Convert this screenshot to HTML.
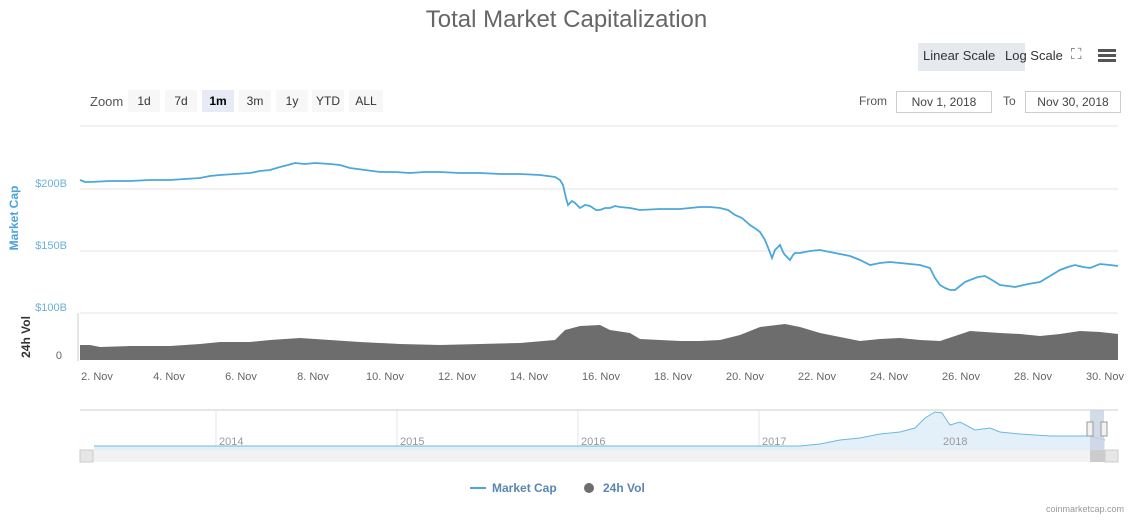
<!DOCTYPE html>
<html><head><meta charset="utf-8"><style>
body{margin:0;width:1133px;height:522px;background:#fff;font-family:"Liberation Sans",sans-serif;overflow:hidden;position:relative}
.t{position:absolute;white-space:nowrap}
.btn{position:absolute;top:90px;height:22px;line-height:22px;font-size:12px;color:#333;background:#f7f7f7;text-align:center}
.box{position:absolute;top:91px;height:20px;line-height:20px;border:1px solid #ccc;font-size:12px;color:#444;text-align:center}
</style></head><body>
<div class="t" style="left:0;width:1133px;text-align:center;top:6px;font-size:24px;color:#666">Total Market Capitalization</div>
<div class="t" style="left:918px;top:43px;width:107px;height:28px;background:#e6e9ee;"></div>
<div class="t" style="left:923px;top:48px;font-size:13px;color:#333">Linear Scale</div>
<div class="t" style="left:1005px;top:48px;font-size:13px;color:#333">Log Scale</div>
<div class="t" style="left:1071px;top:46px;font-size:15px;color:#666">⛶</div>
<div class="t" style="left:1098px;top:49px;width:18px;height:3px;background:#555;box-shadow:0 5px 0 #555,0 10px 0 #555"></div>
<div class="t" style="left:90px;top:94px;font-size:13px;color:#555">Zoom</div>
<div class="btn" style="left:128px;width:32px">1d</div>
<div class="btn" style="left:165px;width:32px">7d</div>
<div class="btn" style="left:202px;width:32px;background:#e6ebf5;font-weight:bold;color:#000">1m</div>
<div class="btn" style="left:239px;width:32px">3m</div>
<div class="btn" style="left:276px;width:32px">1y</div>
<div class="btn" style="left:312px;width:32px">YTD</div>
<div class="btn" style="left:349px;width:34px">ALL</div>
<div class="t" style="left:859px;top:94px;font-size:12px;color:#555">From</div>
<div class="box" style="left:896px;width:94px">Nov 1, 2018</div>
<div class="t" style="left:1003px;top:94px;font-size:12px;color:#555">To</div>
<div class="box" style="left:1025px;width:94px">Nov 30, 2018</div>
<svg width="1133" height="522" style="position:absolute;left:0;top:0">
<g stroke="#e6e6e6" stroke-width="1">
<line x1="80" y1="126" x2="1118" y2="126"/><line x1="80" y1="189" x2="1118" y2="189"/><line x1="80" y1="251" x2="1118" y2="251"/><line x1="80" y1="313" x2="1118" y2="313"/>
</g>
<g font-size="11" fill="#6cb1dc" text-anchor="end"><text x="67" y="187">$200B</text><text x="67" y="249">$150B</text><text x="67" y="311">$100B</text></g>
<text transform="translate(18,218) rotate(-90)" font-size="12" fill="#4aa3dc" text-anchor="middle" font-weight="bold">Market Cap</text>
<text transform="translate(30,337) rotate(-90)" font-size="12" fill="#333" text-anchor="middle" font-weight="bold">24h Vol</text>
<text x="62" y="359" font-size="11" fill="#666" text-anchor="end">0</text>
<line x1="78" y1="313" x2="78" y2="361" stroke="#ccc"/>
<polygon fill="#6d6d6d" points="80,360 80,345 90,345 100,347 130,346 170,346 200,344 220,342 250,342 270,340 300,338 330,340 360,342 400,344 440,345 480,344 520,343 555,340 565,330 580,326 600,325 610,330 630,333 640,339 680,341 700,341 720,340 740,335 760,327 785,324 800,327 820,333 840,337 860,341 880,339 900,338 920,340 940,341 955,336 970,331 1000,333 1020,334 1040,336 1060,334 1080,331 1100,332 1118,334 1118,360"/>
<polyline fill="none" stroke="#4aa8dc" stroke-width="1.8" points="80,180 85,182 90,182 110,181 130,181 150,180 170,180 185,179 200,178 210,176 220,175 235,174 250,173 260,171 270,170 280,167 288,165 295,163 305,164 315,163 330,164 340,165 350,168 365,170 380,172 395,172 410,173 425,172 440,172 460,173 480,173 500,174 520,174 540,175 555,177 560,180 563,185 566,198 568,205 572,201 575,203 580,208 585,205 590,206 596,210 600,210 605,208 610,208 615,206 620,207 630,208 640,210 660,209 680,209 690,208 700,207 710,207 720,208 728,210 735,215 742,218 750,225 756,229 760,232 765,240 769,250 772,258 775,250 777,248 780,245 783,252 785,255 790,260 793,255 795,253 800,253 810,251 820,250 835,253 850,256 860,260 870,265 880,263 890,262 900,263 910,264 920,265 930,268 935,278 940,285 945,288 950,290 955,290 960,286 965,282 970,280 978,277 985,276 992,280 1000,285 1008,286 1015,287 1028,284 1040,282 1050,276 1060,270 1068,267 1075,265 1083,267 1090,268 1100,264 1110,265 1118,266"/>
<g font-size="11" fill="#666" text-anchor="middle">
<text x="97" y="380">2. Nov</text><text x="169" y="380">4. Nov</text><text x="241" y="380">6. Nov</text><text x="313" y="380">8. Nov</text><text x="385" y="380">10. Nov</text><text x="457" y="380">12. Nov</text><text x="529" y="380">14. Nov</text><text x="601" y="380">16. Nov</text><text x="673" y="380">18. Nov</text><text x="745" y="380">20. Nov</text><text x="817" y="380">22. Nov</text><text x="889" y="380">24. Nov</text><text x="961" y="380">26. Nov</text><text x="1033" y="380">28. Nov</text><text x="1105" y="380">30. Nov</text>
</g>
<line x1="80" y1="410" x2="1118" y2="410" stroke="#ccc"/>
<g stroke="#e6e6e6"><line x1="216" y1="410" x2="216" y2="450"/><line x1="397" y1="410" x2="397" y2="450"/><line x1="578" y1="410" x2="578" y2="450"/><line x1="759" y1="410" x2="759" y2="450"/><line x1="940" y1="410" x2="940" y2="450"/></g>
<polygon fill="#e3f0fa" points="94,446 800,446 820,444 840,440 860,438 880,434 900,432 915,428 925,418 935,412 942,413 950,425 960,422 975,430 990,428 1000,432 1020,434 1050,436 1090,436 1105,440 1105,450 94,450"/>
<polyline fill="none" stroke="#6cb8dc" stroke-width="1" points="94,446 800,446 820,444 840,440 860,438 880,434 900,432 915,428 925,418 935,412 942,413 950,425 960,422 975,430 990,428 1000,432 1020,434 1050,436 1090,436 1105,440"/>
<g font-size="11" fill="#999"><text x="219" y="445">2014</text><text x="400" y="445">2015</text><text x="581" y="445">2016</text><text x="762" y="445">2017</text><text x="943" y="445">2018</text></g>
<rect x="1090" y="410" width="14" height="40" fill="#c8d2e4" opacity="0.8"/>
<rect x="1087" y="422" width="6" height="14" fill="#f2f2f2" stroke="#999"/><rect x="1101" y="422" width="6" height="14" fill="#f2f2f2" stroke="#999"/>
<rect x="80" y="450" width="1038" height="12" fill="#f2f2f2"/>
<rect x="80" y="450" width="13" height="12" fill="#e6e6e6" stroke="#ccc"/><rect x="1105" y="450" width="13" height="12" fill="#e6e6e6" stroke="#ccc"/>
<rect x="1090" y="450" width="15" height="12" fill="#ccc"/>
<line x1="470" y1="488" x2="486" y2="488" stroke="#4aa8dc" stroke-width="2"/>
<text x="492" y="492" font-size="12" font-weight="bold" fill="#5a86b0">Market Cap</text>
<circle cx="589" cy="488" r="5" fill="#6d6d6d"/>
<text x="603" y="492" font-size="12" font-weight="bold" fill="#5a86b0">24h Vol</text>
<text x="1124" y="512" font-size="9" fill="#999" text-anchor="end">coinmarketcap.com</text>
</svg>
</body></html>
